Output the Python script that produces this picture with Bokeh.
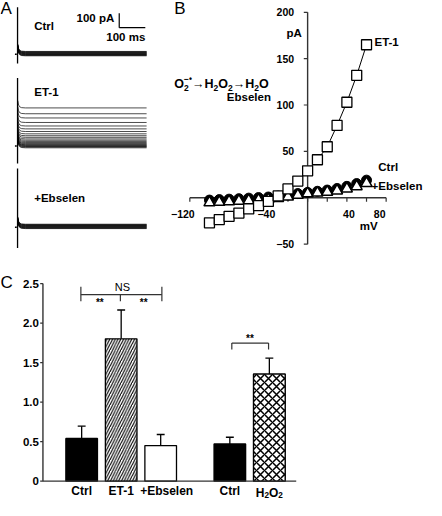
import subprocess
from bokeh.plotting import figure
from bokeh.layouts import column, row
from bokeh.models import ColumnDataSource
from bokeh.core.properties import value
from bokeh.embed import file_html
from bokeh.resources import INLINE

try:
    _fams = subprocess.run(["fc-list", ":", "family"], capture_output=True, text=True, timeout=10).stdout
except Exception:
    _fams = ""
SANS = "Liberation Sans"
HAS_NARROW = "Liberation Sans Narrow" in _fams
NARROW = "Liberation Sans Narrow" if HAS_NARROW else SANS

# ---------------- data ----------------
# Panel A: current traces (steady level of each sweep above holding, pA)
ctrl_sweeps = [-10, -7, -4, -1, 2, 5, 8, 11, 14, 17, 20]
et1_sweeps = [-12, -7, -3, 1, 5, 9, 14, 19, 25, 32, 40, 49, 60, 71, 84, 100, 118, 138, 162, 193, 222, 262]
ebs_sweeps = [-10, -7, -4, -1, 2, 5, 8, 11, 14, 17, 20]
transient_up = [323, 467, 403]       # capacitive spike peak (pA)
transient_down = [-63, -120, -143]   # capacitive spike trough (pA)
tail_ms = [-4, -1, 3, 10, 25, 490]   # sweep time points (ms)
tail_pA = [50, 20, 8, 2, 0, 0]       # decay of the transient into each sweep
trace_names = ["Ctrl", "ET-1", "+Ebselen"]

# Panel B: I-V relation
mv = [-100, -90, -80, -70, -60, -50, -40, -30, -20, -10, 0, 10, 20, 30, 40, 50, 60]
iv_et1 = [-27, -23.5, -20, -16.5, -12, -8.5, -4, 2, 9.5, 18, 29, 41, 55, 78, 103, 132, 165]
iv_ctrl = [-2.5, -2, -1.5, -1, -0.4, 0.2, 0.8, 1.8, 3, 4.5, 5.8, 7, 8.3, 10, 12.3, 15.3, 19]
iv_ebs = [-5.2, -4.7, -4.1, -3.5, -2.9, -2.4, -1.8, -0.5, 1, 2.8, 4.5, 5.2, 6.2, 7.6, 9.7, 12.1, 15.6]
b_xticks = [-120, -100, -80, -60, -40, -20, 0, 20, 40, 60, 80]
b_xlabels = ["\u2212120", "\u221240", "40", "80"]
b_xlabel_vals = [-120, -40, 40, 80]
b_yticks = [-50, 0, 50, 100, 150, 200]
b_ylabels = ["\u221250", "50", "100", "150", "200"]
b_ylabel_vals = [-50, 50, 100, 150, 200]

# Panel C: bar chart
c_labels = ["Ctrl", "ET-1", "+Ebselen", "Ctrl", "H2O2"]
c_pos = [1, 2, 3, 4.75, 5.75]
c_vals = [0.54, 1.80, 0.45, 0.47, 1.355]
c_errs = [0.155, 0.365, 0.14, 0.085, 0.20]
c_fill = ["black", "white", "white", "black", "white"]
c_hatch = [" ", "/", " ", " ", " "]
c_yticks = [0, 0.5, 1.0, 1.5, 2.0, 2.5]
c_yticklabels = ["0", "0.5", "1.0", "1.5", "2.0", "2.5"]


def blank_fig(w, h, xr, yr):
    p = figure(width=w, height=h, x_range=xr, y_range=yr, output_backend="svg",
               toolbar_location=None, x_axis_type=None, y_axis_type=None, min_border=0)
    p.grid.visible = False
    p.outline_line_color = None
    p.background_fill_color = "white"
    p.border_fill_color = "white"
    return p


def txt(p, x, y, s, size, bold=True, font=SANS, align="left", baseline="middle", xo=0, yo=0):
    p.text(x=[x], y=[y], text=[s], text_font=value(font), text_font_size=f"{size}px",
           text_font_style="bold" if bold else "normal", text_align=align,
           text_baseline=baseline, x_offset=xo, y_offset=yo, text_color="black")


EM = {"O": .778, "H": .722, "2": .556, "\u2192": 1.0, "\u2212": .584, "\u2022": .35}


def chem(p, x, y, pieces, size, center=False, sub_drop=0.3):
    """pieces: (text, kind) with kind main/sub/sup; sup stacks over the preceding sub."""
    small = size * 0.68
    layout = []
    cur = 0.0
    last_sub_x = None
    for t, kind in pieces:
        if kind == "main":
            w = sum(EM.get(c, .6) for c in t) * size
            layout.append((t, cur, 0, size))
            cur += w
        elif kind == "sub":
            w = sum(EM.get(c, .6) for c in t) * small
            layout.append((t, cur, sub_drop * size, small))
            last_sub_x = cur
            cur += w
        else:
            w = sum(EM.get(c, .6) for c in t) * small
            x0 = last_sub_x if last_sub_x is not None else cur
            layout.append((t, x0, -0.42 * size, small))
            cur = max(cur, x0 + w)
    shift = -cur / 2 if center else 0
    for t, xo, yo, s in layout:
        txt(p, x, y, t, round(s, 1), align="left", baseline="alphabetic", xo=xo + shift, yo=yo)


# ---------------- Panel A ----------------
pa = blank_fig(169, 262, (-70.4, 577.8), (0, 1800))
group_offsets = [1430, 800, 243]          # vertical stacking of the three recordings
groups = [ctrl_sweeps, et1_sweeps, ebs_sweeps]
for gi, sweeps in enumerate(groups):
    off = group_offsets[gi]
    xs, ys = [], []
    for lev in sweeps:
        xs.append(tail_ms)
        ys.append([off + lev + d for d in tail_pA])
    pa.multi_line(xs=xs, ys=ys, line_color="black", line_width=0.7)
    pa.segment(x0=[-5], y0=[off + transient_down[gi]], x1=[-5], y1=[off + transient_up[gi]],
               line_color="black", line_width=1.3)
    pa.segment(x0=[-15], y0=[off], x1=[-8], y1=[off], line_color="black", line_width=1.5)

# scale bar 100 pA / 100 ms
pa.segment(x0=[385, 385], y0=[1613, 1613], x1=[385, 485], y1=[1713, 1613], line_color="black", line_width=1.2)
txt(pa, 366, 1680, "100 pA", 11.5, align="right")
txt(pa, 485, 1547, "100 ms", 11.5, align="right")
txt(pa, 59, 1627, trace_names[0], 11.5)
txt(pa, 59, 1173, trace_names[1], 11.5)
txt(pa, 59, 440, trace_names[2], 11.5)
txt(pa, -70.4, 1743, "A", 17, bold=False)

# ---------------- Panel B ----------------
pb = blank_fig(257, 262, (-140.7, 121.1), (-69.8, 212.7))
pb.segment(x0=[-120], y0=[0], x1=[80], y1=[0], line_color="#333333", line_width=1.4)
pb.segment(x0=[0], y0=[-50], x1=[0], y1=[200], line_color="#333333", line_width=1.4)
pb.segment(x0=b_xticks, y0=[0] * len(b_xticks), x1=b_xticks, y1=[-4.2] * len(b_xticks),
           line_color="#333333", line_width=1.2)
pb.segment(x0=[0] * len(b_yticks), y0=b_yticks, x1=[-3.9] * len(b_yticks), y1=b_yticks,
           line_color="#333333", line_width=1.2)
pb.text(x=b_xlabel_vals, y=[0] * 4, text=b_xlabels, x_offset=[-7, -2, 2, -6.5], y_offset=16,
        text_font=value(SANS), text_font_style="bold", text_font_size="10.5px",
        text_align="center", text_baseline="middle", text_color="black")
pb.text(x=[0] * 5, y=b_ylabel_vals, text=b_ylabels, x_offset=-13.5,
        text_font=value(SANS), text_font_style="bold", text_font_size="10.5px",
        text_align="right", text_baseline="middle", text_color="black")

pb.line(mv, iv_ctrl, line_color="black", line_width=1)
pb.scatter(mv, iv_ctrl, marker="circle", size=10, fill_color="black", line_color="black")
pb.line(mv, iv_ebs, line_color="black", line_width=1)
pb.scatter(mv, iv_ebs, marker="triangle", size=11, fill_color="white", line_color="black", line_width=1.5)
pb.line(mv, iv_et1, line_color="black", line_width=1)
pb.scatter(mv, iv_et1, marker="square", size=10, fill_color="white", line_color="black", line_width=1.3)

txt(pb, -13.7, 178, "pA", 11.5, align="center")
txt(pb, 62.3, -30.5, "mV", 11.5, align="center")
txt(pb, 68.1, 167.7, "ET-1", 11.5)
txt(pb, 72, 32.7, "Ctrl", 11.5)
txt(pb, 65.2, 12.9, "+Ebselen", 11.5)
txt(pb, -135.8, 203.8, "B", 17, bold=False)
chem(pb, -135.8, 122.2, [("O", "main"), ("2", "sub"), ("\u2212\u2022", "sup"), ("\u2192H", "main"),
                          ("2", "sub"), ("O", "main"), ("2", "sub"), ("\u2192H", "main"),
                          ("2", "sub"), ("O", "main")], 12.5)
txt(pb, -59.8, 109.1, "Ebselen", 11.5, align="center", baseline="alphabetic")

# ---------------- Panel C ----------------
pc = blank_fig(426, 238, (-1.054, 9.727), (-0.245, 2.766))
err_top = [v + e for v, e in zip(c_vals, c_errs)]
src = ColumnDataSource(dict(x=c_pos, top=c_vals, fill=c_fill, hatch=c_hatch, err_top=err_top))
pc.segment(x0="x", y0="top", x1="x", y1="err_top", source=src, line_color="black", line_width=1.3)
pc.segment(x0=[x - 0.1 for x in c_pos], y0=err_top, x1=[x + 0.1 for x in c_pos],
           y1=err_top, line_color="black", line_width=1.3)
pc.vbar(x="x", top="top", width=0.8, source=src, fill_color="fill", line_color="black",
        line_width=1.3, hatch_pattern="hatch", hatch_color="black", hatch_scale=5.5, hatch_weight=1.1)
# cross-hatched H2O2 bar (coarser pattern)
src2 = ColumnDataSource(dict(x=[c_pos[4]], top=[c_vals[4]]))
pc.vbar(x="x", top="top", width=0.8, source=src2, fill_color="white", line_color="black",
        line_width=1.3, hatch_pattern="x", hatch_color="black", hatch_scale=8, hatch_weight=1.5)

# axes
pc.segment(x0=[0.02], y0=[0], x1=[0.02], y1=[2.5], line_color="#333333", line_width=1.4)
pc.segment(x0=[0.02], y0=[0], x1=[6.43], y1=[0], line_color="#333333", line_width=1.4)
pc.segment(x0=[0.02] * 6, y0=c_yticks, x1=[-0.05] * 6, y1=c_yticks, line_color="#333333", line_width=1.2)
pc.text(x=[0.02] * 6, y=c_yticks, text=c_yticklabels, x_offset=-4,
        text_font=value(NARROW), text_font_style="bold",
        text_font_size="13px" if HAS_NARROW else "11.5px",
        text_align="right", text_baseline="middle", text_color="black")
pc.text(x=c_pos[:4], y=[-0.122] * 4, text=c_labels[:4], x_offset=[0, 0, 6, 0],
        text_font=value(SANS), text_font_style="bold", text_font_size="12px",
        text_align="center", text_baseline="middle", text_color="black")
chem(pc, c_pos[4], -0.145, [("H", "main"), ("2", "sub"), ("O", "main"), ("2", "sub")], 12,
     center=True, sub_drop=0.22)

# significance brackets
pc.segment(x0=[0.98, 0.98, 3.03, 1.98], y0=[2.359, 2.46, 2.46, 2.359],
           x1=[3.03, 0.98, 3.03, 1.98], y1=[2.359, 2.277, 2.277, 2.277],
           line_color="#333333", line_width=1.2)
pc.segment(x0=[4.80, 4.80, 5.73], y0=[1.747, 1.747, 1.747], x1=[5.73, 4.80, 5.73], y1=[1.747, 1.665, 1.665],
           line_color="#333333", line_width=1.2)
txt(pc, 2.03, 2.45, "NS", 11, bold=False, align="center")
pc.text(x=[1.46, 2.57, 5.26], y=[2.265, 2.265, 1.805], text=["**", "**", "**"],
        text_font=value(SANS), text_font_size="10px", text_font_style="bold",
        text_align="center", text_baseline="middle", text_color="black")
txt(pc, -1.054, 2.515, "C", 17, bold=False)

layout = column(row(pa, pb), pc)
open("out.html", "w").write(file_html(layout, INLINE))
